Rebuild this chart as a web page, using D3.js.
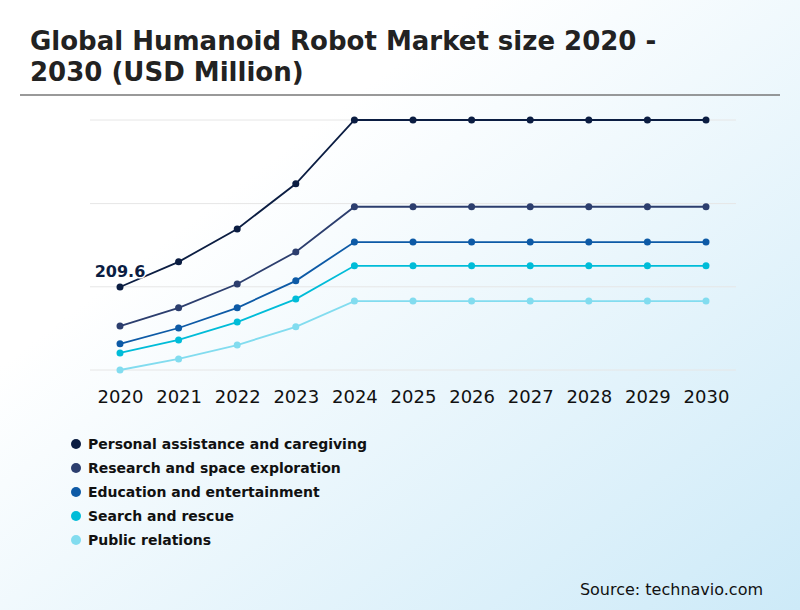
<!DOCTYPE html>
<html><head><meta charset="utf-8">
<script src="https://cdn.jsdelivr.net/npm/d3@7"></script>
<style>body{margin:0}svg{display:block;font-family:"DejaVu Sans",sans-serif}</style>
</head><body><svg id="c" width="800" height="610"></svg>
<script>
const years=["2020","2021","2022","2023","2024","2025","2026","2027","2028","2029","2030"];
const seriesNames=["Personal assistance and caregiving","Research and space exploration","Education and entertainment","Search and rescue","Public relations"];
const colors=["#0b1d42","#2c3e6e","#0d5aa6","#00bcd8","#82dcef"];
const personal=[209.6,273,356,470,631,631,631,631,631,631,631];
const research=[111,157,217,298,412,412,412,412,412,412,412];
const education=[66,106,157,225,323,323,323,323,323,323,323];
const search=[43,76,121,179,263,263,263,263,263,263,263];
const publicRel=[0,28,63,109,174,174,174,174,174,174,174];
const gridVals=[0,210,420,631];
const data=[personal,research,education,search,publicRel];

const svg=d3.select("#c");
const defs=svg.append("defs");
const g=defs.append("linearGradient").attr("id","bg").attr("x1","0").attr("y1","0").attr("x2","1").attr("y2","1");
g.append("stop").attr("offset","0.3").attr("stop-color","#ffffff");
g.append("stop").attr("offset","1").attr("stop-color","#cdeaf8");
svg.append("rect").attr("width",800).attr("height",610).attr("fill","url(#bg)");

svg.append("text").attr("x",30).attr("y",50).attr("font-size",26).attr("font-weight","bold").attr("fill","#222").text("Global Humanoid Robot Market size 2020 -");
svg.append("text").attr("x",30).attr("y",81).attr("font-size",26).attr("font-weight","bold").attr("fill","#222").text("2030 (USD Million)");
svg.append("line").attr("x1",20).attr("x2",780).attr("y1",95).attr("y2",95).attr("stroke","#777").attr("stroke-width",1.5);

const x=d3.scalePoint().domain(years).range([120,706]);
const y=d3.scaleLinear().domain([0,631]).range([370,120]);

svg.selectAll(".grid").data(gridVals).join("line").attr("x1",90).attr("x2",736)
 .attr("y1",d=>y(d)).attr("y2",d=>y(d)).attr("stroke","#e6e6e6");

const ax=svg.append("g").attr("transform","translate(0,386)").call(d3.axisBottom(x).tickSize(0).tickPadding(4));
ax.select(".domain").remove();
ax.selectAll("text").attr("font-size",18).attr("font-weight","500").attr("fill","#111").attr("font-family","DejaVu Sans");

const line=d3.line().x((d,i)=>x(years[i])).y(d=>y(d));
data.forEach((s,k)=>{
  svg.append("path").datum(s).attr("d",line).attr("fill","none").attr("stroke",colors[k]).attr("stroke-width",1.8);
  svg.selectAll(".p"+k).data(s).join("circle").attr("cx",(d,i)=>x(years[i])).attr("cy",d=>y(d)).attr("r",3.5).attr("fill",colors[k]);
});
svg.append("text").attr("x",x(years[0])).attr("y",y(personal[0])-10).attr("text-anchor","middle")
 .attr("font-size",16).attr("font-weight","bold").attr("fill","#0b1d42").attr("stroke","#fff").attr("stroke-width",3).attr("paint-order","stroke").text(personal[0]);

seriesNames.forEach((n,k)=>{
  svg.append("circle").attr("cx",76).attr("cy",444+k*24).attr("r",5).attr("fill",colors[k]);
  svg.append("text").attr("x",88).attr("y",449+k*24).attr("font-size",14).attr("font-weight","bold").attr("fill","#111").text(n);
});
svg.append("text").attr("x",763).attr("y",595).attr("text-anchor","end").attr("font-size",16).attr("fill","#111").text("Source: technavio.com");
</script></body></html>
